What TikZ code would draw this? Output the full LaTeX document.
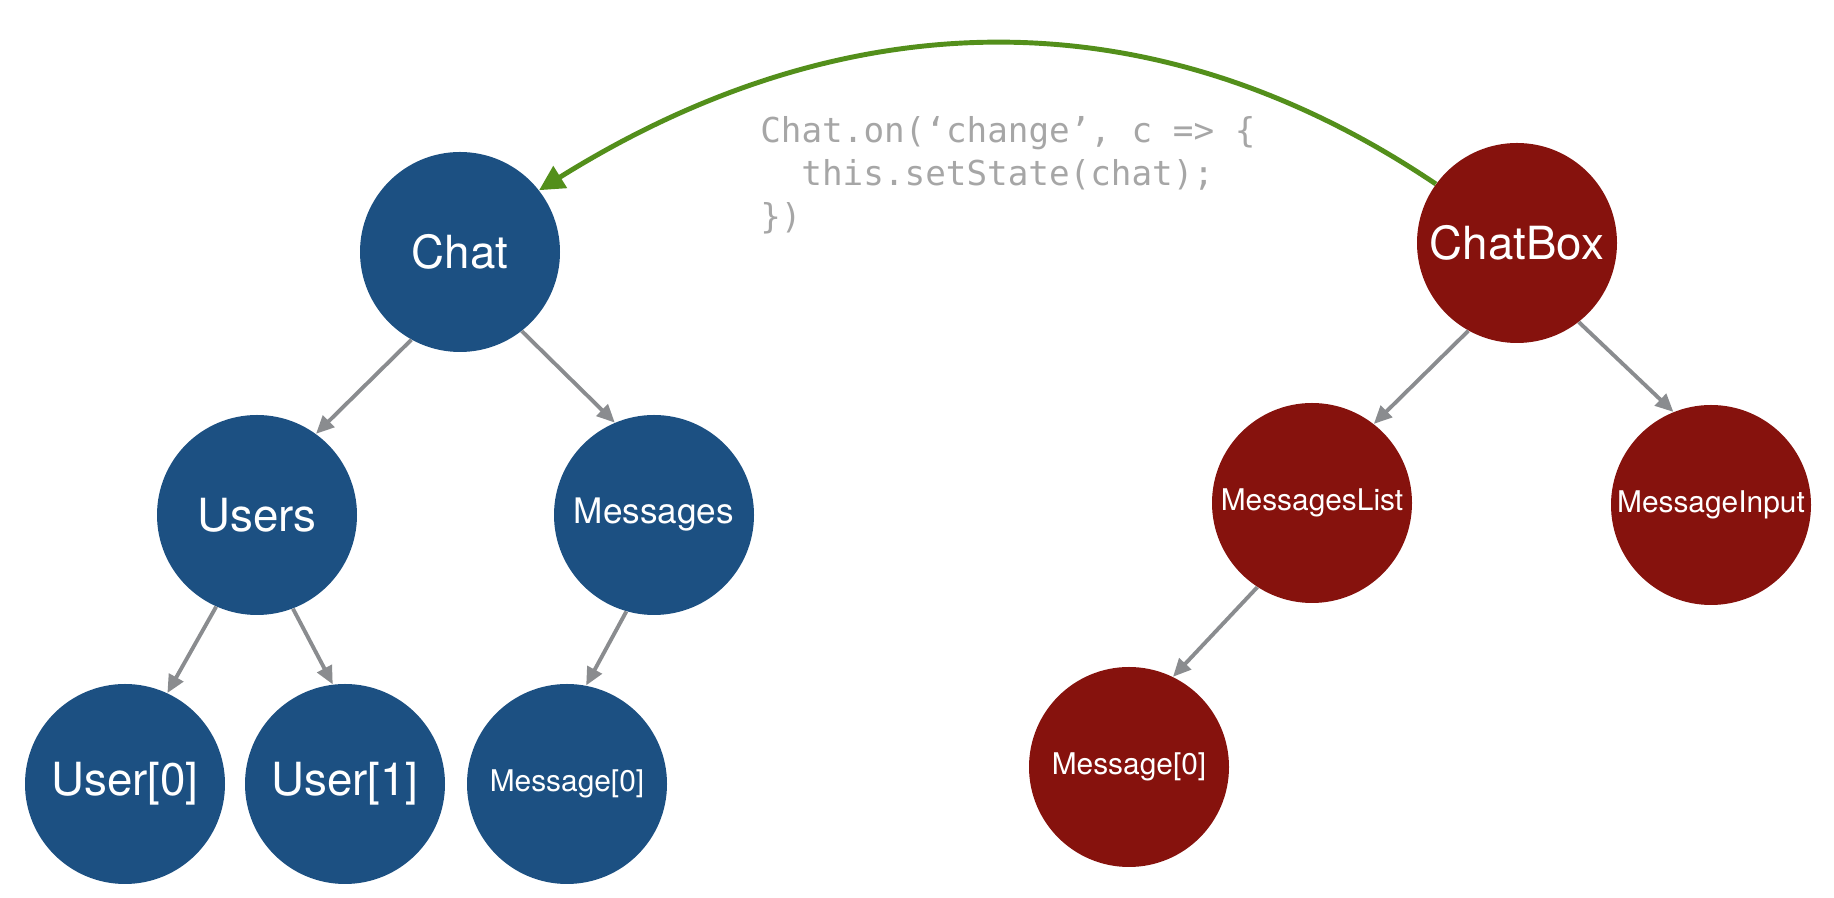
\documentclass[tikz,border=0pt]{standalone}
\usepackage{fontspec}
\setmainfont{TeX Gyre Heros}
\newfontfamily\codefont{DejaVu Sans Mono}
\usetikzlibrary{arrows.meta}
\definecolor{bleu}{RGB}{28,80,130}
\definecolor{rouge}{RGB}{134,18,13}
\definecolor{vert}{RGB}{83,143,27}
\definecolor{gris}{RGB}{138,140,143}
\definecolor{grisclair}{RGB}{166,166,166}

\begin{document}
\begin{tikzpicture}[
    noeudbleu/.style={circle,fill=bleu,text=white,minimum size=4cm,inner sep=0pt},
    noeudrouge/.style={circle,fill=rouge,text=white,minimum size=4cm,inner sep=0pt},
    grand/.style={font=\fontsize{26}{30}\selectfont},
    moyen/.style={font=\fontsize{20}{24}\selectfont},
    petit/.style={font=\fontsize{17}{20}\selectfont},
    fleche/.style={draw=gris,line width=2.2pt,-{Triangle[length=0.36cm,width=0.32cm]}}]
    \useasboundingbox (0,0) rectangle (36.68,17.96);
    % arbre de gauche
    \node[noeudbleu,grand] (chat) at (9.20,12.92) {Chat};
    \node[noeudbleu,grand] (users) at (5.14,7.66) {Users};
    \node[noeudbleu,moyen] (messages) at (13.08,7.66) {Messages};
    \node[noeudbleu,grand] (user0) at (2.50,2.28) {User[0]};
    \node[noeudbleu,grand] (user1) at (6.90,2.28) {User[1]};
    \node[noeudbleu,petit] (message0) at (11.34,2.28) {Message[0]};
    \draw[fleche] (chat.241) -- (users.54);
    \draw[fleche] (chat.308) -- (messages.113);
    \draw[fleche] (users.246) -- (user0.65);
    \draw[fleche] (users.291) -- (user1.97);
    \draw[fleche] (messages.254) -- (message0.79);
    % arbre de droite
    \node[noeudrouge,grand] (chatbox) at (30.34,13.10) {ChatBox};
    \node[noeudrouge,petit] (messageslist) at (26.24,7.90) {MessagesList};
    \node[noeudrouge,petit] (messageinput) at (34.22,7.86) {MessageInput};
    \node[noeudrouge,petit] (message0r) at (22.58,2.62) {Message[0]};
    \draw[fleche] (chatbox.241) -- (messageslist.52);
    \draw[fleche] (chatbox.308) -- (messageinput.112);
    \draw[fleche] (messageslist.237) -- (message0r.64);
    % le retour vers Chat
    \draw[vert,line width=2.8pt,-{Triangle[length=0.5cm,width=0.5cm]}] (chatbox.144) to[out=146,in=32] (chat.38);
    \node[font=\codefont\fontsize{19.5}{24.5}\selectfont,text=grisclair,align=left,anchor=north west,inner sep=0pt] (code) at (15.2,15.64)
        {Chat.on(‘change’, c => \{\\\hspace*{1.2em}this.setState(chat);\\\})};
\end{tikzpicture}
\end{document}
